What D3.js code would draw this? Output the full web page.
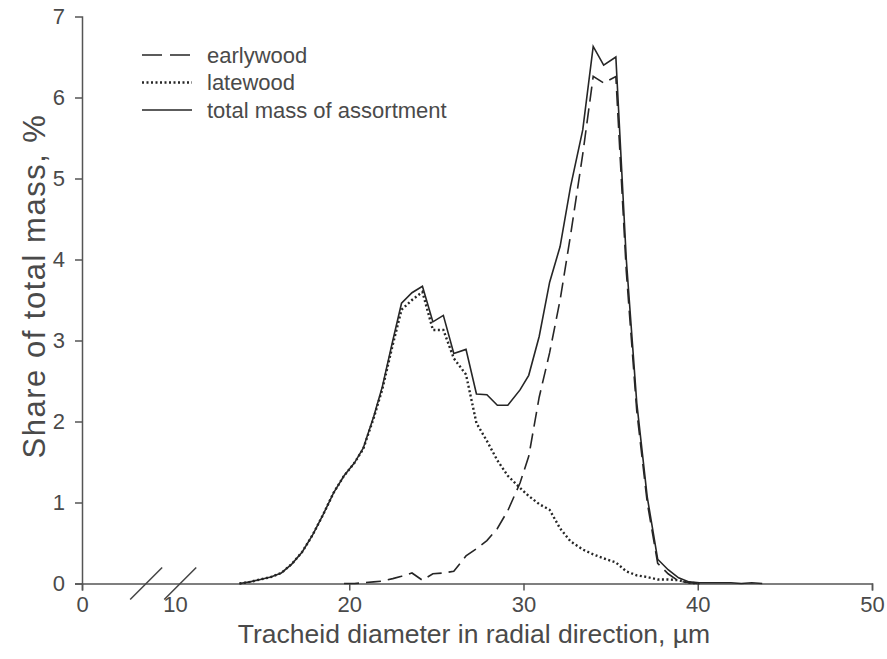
<!DOCTYPE html>
<html>
<head>
<meta charset="utf-8">
<script src="https://cdn.jsdelivr.net/npm/d3@7"></script>
<style>
  html, body { margin: 0; padding: 0; background: #fff; }
  svg { display: block; font-family: "Liberation Sans", Arial, Helvetica, sans-serif; }
</style>
</head>
<body>
<svg id="chart" width="887" height="659"></svg>
<script>
// ---- data ----
const diameter = [13.7,14.3,14.9,15.5,16.1,16.7,17.3,17.9,18.5,19.1,19.7,20.3,20.8,21.4,21.9,22.5,23.0,23.6,24.2,24.8,25.4,26.0,26.7,27.3,27.9,28.5,29.1,29.8,30.3,30.9,31.5,32.1,32.7,33.4,34.0,34.6,35.3,35.9,36.5,37.1,37.7,38.3,38.9,39.5,40.1,40.7,41.3,41.9,42.5,43.1,43.7];
const totalMass = [0.0,0.02,0.05,0.08,0.13,0.24,0.39,0.6,0.85,1.12,1.33,1.49,1.67,2.06,2.43,3.0,3.46,3.59,3.67,3.23,3.31,2.84,2.89,2.34,2.33,2.2,2.2,2.39,2.57,3.05,3.72,4.16,4.9,5.6,6.63,6.40,6.50,4.0,2.23,1.07,0.30,0.17,0.07,0.02,0.01,0.01,0.01,0.01,0.0,0.01,0.0];
const latewood = [0.0,0.02,0.05,0.08,0.13,0.24,0.39,0.6,0.85,1.12,1.33,1.49,1.66,2.04,2.40,2.95,3.38,3.50,3.60,3.13,3.13,2.78,2.58,1.98,1.76,1.52,1.33,1.18,1.08,0.98,0.91,0.68,0.52,0.42,0.36,0.31,0.26,0.15,0.10,0.08,0.05,0.05,0.04,0.01,0.0,null,null,null,null,null,null];
const earlywood = [null,null,null,null,null,null,null,null,null,null,0.0,0.0,0.01,0.02,0.03,0.06,0.09,0.13,0.04,0.12,0.13,0.15,0.34,0.43,0.53,0.68,0.9,1.24,1.57,2.3,2.85,3.5,4.3,5.3,6.26,6.18,6.26,3.85,2.13,1.0,0.25,0.12,0.03,0.01,0.0,null,null,null,null,null,null];
const xTickValues = [0, 10, 20, 30, 40, 50];
const yTickValues = [0, 1, 2, 3, 4, 5, 6, 7];
const seriesNames = ["earlywood", "latewood", "total mass of assortment"];

// ---- layout ----
const svg = d3.select("#chart");
const textColor = "#4a4a4a";
const axisColor = "#555";
const lineColor = "#262626";

// broken x axis: 0..10 compressed
const x = d3.scaleLinear().domain([0, 10, 50]).range([82, 175, 872]);
const y = d3.scaleLinear().domain([0, 7]).range([583.5, 16.5]);

// ---- axes ----
const xAxis = d3.axisBottom(x).tickValues(xTickValues).tickSize(7).tickPadding(6).tickFormat(d3.format("d"));
const gx = svg.append("g").attr("transform", `translate(0,${y(0)})`).call(xAxis);
gx.select(".domain").attr("stroke", axisColor).attr("stroke-width", 1.5);
gx.selectAll(".tick line").attr("stroke", axisColor).attr("stroke-width", 1.5)
  .filter(d => d === 10).remove();
gx.selectAll(".tick text").attr("fill", textColor).attr("font-size", 22)
  .attr("font-family", "Liberation Sans, Arial, sans-serif");

const yAxis = d3.axisLeft(y).tickValues(yTickValues).tickSize(7).tickPadding(10).tickFormat(d3.format("d"));
const gy = svg.append("g").attr("transform", `translate(${x(0)},0)`).call(yAxis);
gy.select(".domain").attr("stroke", axisColor).attr("stroke-width", 1.5);
gy.selectAll(".tick line").attr("stroke", axisColor).attr("stroke-width", 1.5)
  .filter(d => d === 7).remove();
gy.selectAll(".tick text").attr("fill", textColor).attr("font-size", 22)
  .attr("font-family", "Liberation Sans, Arial, sans-serif");

// axis break marks
[x(6.9), x(10.3)].forEach(cx => {
  svg.append("line")
    .attr("x1", cx - 16).attr("y1", y(0) + 16)
    .attr("x2", cx + 16).attr("y2", y(0) - 16)
    .attr("stroke", "#444").attr("stroke-width", 1.5);
});

// axis titles
svg.append("text")
  .attr("x", 474).attr("y", 643)
  .attr("text-anchor", "middle").attr("font-size", 26.5).attr("fill", textColor)
  .text("Tracheid diameter in radial direction, \u00b5m");
svg.append("text")
  .attr("transform", `translate(45,286) rotate(-90)`)
  .attr("text-anchor", "middle").attr("font-size", 31).attr("fill", textColor)
  .attr("letter-spacing", 1.5)
  .text("Share of total mass, %");

// ---- lines ----
const styles = {
  "earlywood": { dash: "15,7", width: 1.6, values: earlywood },
  "latewood": { dash: "2,2.5", width: 2.4, values: latewood },
  "total mass of assortment": { dash: null, width: 1.6, values: totalMass }
};
const line = d3.line()
  .defined(d => d[1] !== null)
  .x(d => x(d[0]))
  .y(d => y(d[1]));

seriesNames.forEach(name => {
  const s = styles[name];
  const pts = diameter.map((dv, i) => [dv, s.values[i]]);
  svg.append("path")
    .datum(pts)
    .attr("d", line)
    .attr("fill", "none")
    .attr("stroke", lineColor)
    .attr("stroke-width", s.width)
    .attr("stroke-linejoin", "miter")
    .attr("stroke-dasharray", s.dash);
});

// ---- legend ----
const legend = svg.append("g");
seriesNames.forEach((name, i) => {
  const s = styles[name];
  const ly = 55 + i * 27.5;
  legend.append("line")
    .attr("x1", 142).attr("x2", 192).attr("y1", ly).attr("y2", ly)
    .attr("stroke", lineColor).attr("stroke-width", s.width)
    .attr("stroke-dasharray", name === "earlywood" ? "20,8" : s.dash);
  legend.append("text")
    .attr("x", 207).attr("y", ly).attr("dy", "0.35em")
    .attr("font-size", 22).attr("fill", textColor)
    .text(name);
});
</script>
</body>
</html>
